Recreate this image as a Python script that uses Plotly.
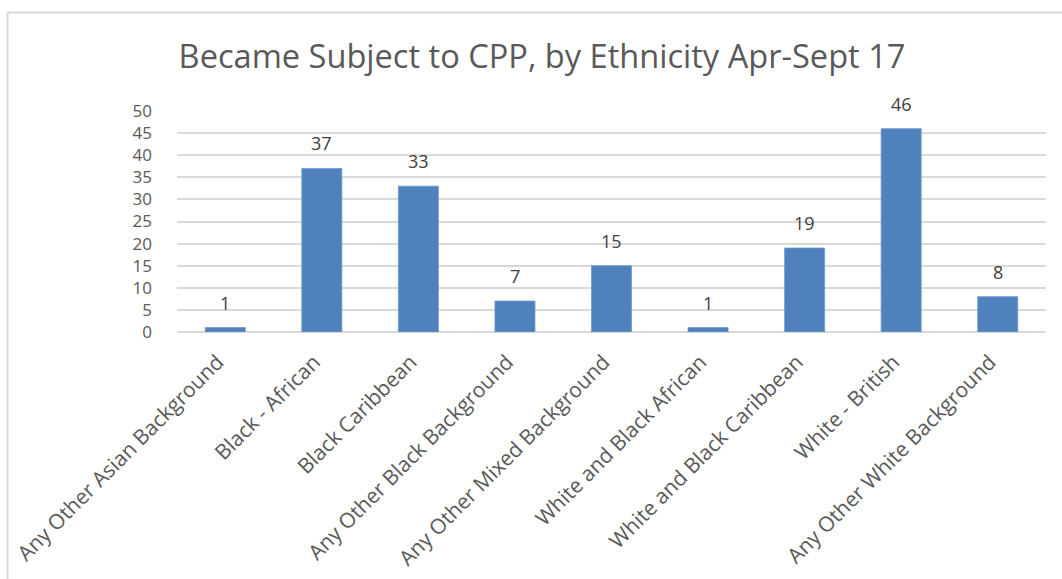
import plotly.graph_objects as go

# Children who became subject to a Child Protection Plan, Apr-Sept 2017
categories = [
    "Any Other Asian Background",
    "Black - African",
    "Black Caribbean",
    "Any Other Black Background",
    "Any Other Mixed Background",
    "White and Black African",
    "White and Black Caribbean",
    "White - British",
    "Any Other White Background",
]
counts = [1, 37, 33, 7, 15, 1, 19, 46, 8]
y_ticks = [0, 5, 10, 15, 20, 25, 30, 35, 40, 45, 50]

FONT = "Open Sans"
BAR = "#4F81BD"
GRID = "#D9D9D9"

fig = go.Figure()
fig.add_trace(go.Bar(
    x=categories,
    y=counts,
    marker=dict(color=BAR, line=dict(color="#6F9AD0", width=0.8)),
    hoverinfo="x+y",
))

# value labels sitting above each bar
for cat, val in zip(categories, counts):
    fig.add_annotation(
        x=cat, y=val, text=str(val), showarrow=False,
        yanchor="bottom", yshift=11,
        font=dict(family=FONT, size=18, color="#404040"),
    )

L, R, T, B = 177, 16, 111, 247
W, H = 1062, 579
pw, ph = W - L - R, H - T - B

# chart-area frame (left and top edges visible)
fig.add_shape(type="line", xref="paper", yref="paper",
              x0=(7.5 - L) / pw, x1=(W - L) / pw,
              y0=(H - B - 12.5) / ph, y1=(H - B - 12.5) / ph,
              line=dict(color=GRID, width=2))
fig.add_shape(type="line", xref="paper", yref="paper",
              x0=(7.5 - L) / pw, x1=(7.5 - L) / pw,
              y0=(H - B - 12.5) / ph, y1=(H - B - W) / ph,
              line=dict(color=GRID, width=2))

# rotated category labels, padded so they sit a little further from the axis
pad = "\u00a0" * 2
tick_text = [c + pad for c in categories]

fig.update_layout(
    width=W, height=H,
    margin=dict(l=L, r=R, t=T, b=B),
    paper_bgcolor="white", plot_bgcolor="white",
    bargap=0.585,
    showlegend=False,
    title=dict(
        text="Became Subject to CPP, by Ethnicity Apr-Sept 17",
        x=(542) / W, xanchor="center", y=1 - 57 / H, yanchor="middle",
        font=dict(family=FONT, size=32.6, color="#595959"),
    ),
    xaxis=dict(
        tickangle=-45, automargin=False,
        tickmode="array", tickvals=categories, ticktext=tick_text,
        tickfont=dict(family=FONT, size=21, color="#595959"),
        showgrid=False, showline=False, ticks="", ticklabelstandoff=5,
    ),
    yaxis=dict(
        range=[0, 50], tickvals=y_ticks, automargin=False,
        tickfont=dict(family=FONT, size=17, color="#595959"),
        showgrid=True, gridcolor=GRID, gridwidth=1.5,
        zeroline=True, zerolinecolor=GRID, zerolinewidth=1.5,
        showline=False, ticks="", ticklabelstandoff=24,
    ),
)

fig.write_html("out.html")
